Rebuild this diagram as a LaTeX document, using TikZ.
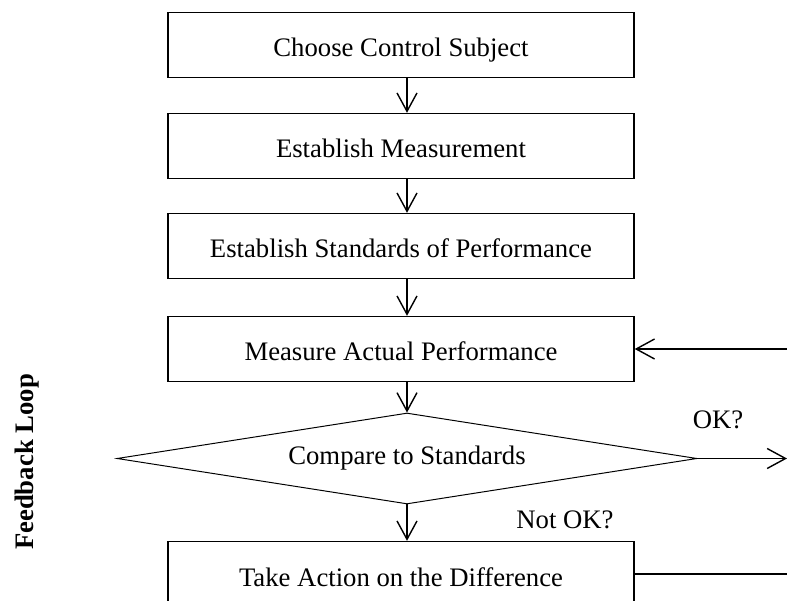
\documentclass[tikz,border=0pt]{standalone}
\usepackage{fontspec}
\setmainfont{Liberation Serif}
\usetikzlibrary{arrows.meta, shapes.geometric, calc}

\begin{document}
\begin{tikzpicture}[>={Straight Barb[length=4.6mm, width=5mm]}, line width=1pt,
  stepbox/.style={draw, rectangle, minimum width=11.65cm, minimum height=1.625cm, inner sep=0pt, text height=0.74cm, text depth=0.14cm, font=\fontsize{19}{23}\selectfont},
  decision/.style={draw, diamond, aspect=6.37, line width=0.7pt, minimum width=14.5cm, minimum height=2.275cm, inner sep=0pt, font=\fontsize{19}{23}\selectfont},
  lbl/.style={font=\fontsize{19}{23}\selectfont}]

% Frame
\useasboundingbox (0,0) rectangle (19.675,15);
\clip (0,0) rectangle (19.675,15);
\coordinate (edge) at (19.675,0);

% Steps
\node[stepbox] (choose) at (10.025,13.875) {Choose Control Subject};
\node[stepbox] (measure) at (10.025,11.35) {Establish Measurement};
\node[stepbox] (standards) at (10.025,8.85) {Establish Standards of Performance};
\node[stepbox] (actual) at (10.025,6.275) {Measure Actual Performance};
\node[decision] (compare) at (10.175,3.5375) {Compare to Standards};
\node[stepbox] (action) at (10.025,0.65) {Take Action on the Difference};

% Down arrows
\draw[->] (choose.south -| compare) -- (measure.north -| compare);
\draw[->] (measure.south -| compare) -- (standards.north -| compare);
\draw[->] (standards.south -| compare) -- (actual.north -| compare);
\draw[->] (actual.south -| compare) -- (compare.north);
\draw[->] (compare.south) -- (action.north -| compare);

% Loop lines at the right
\draw[->] (actual.east -| edge) -- (actual.east);
\draw[->] (compare.east) -- (compare.east -| edge);
\draw (action.east) -- (action.east -| edge);

% Labels
\node[lbl] (ok) at (17.95,4.5) {OK?};
\node[lbl] (notok) at (14.125,2.0) {Not OK?};
\node[lbl, font=\fontsize{19}{23}\selectfont\bfseries, rotate=90] (loop) at (0.675,3.45) {Feedback Loop};

\end{tikzpicture}
\end{document}
